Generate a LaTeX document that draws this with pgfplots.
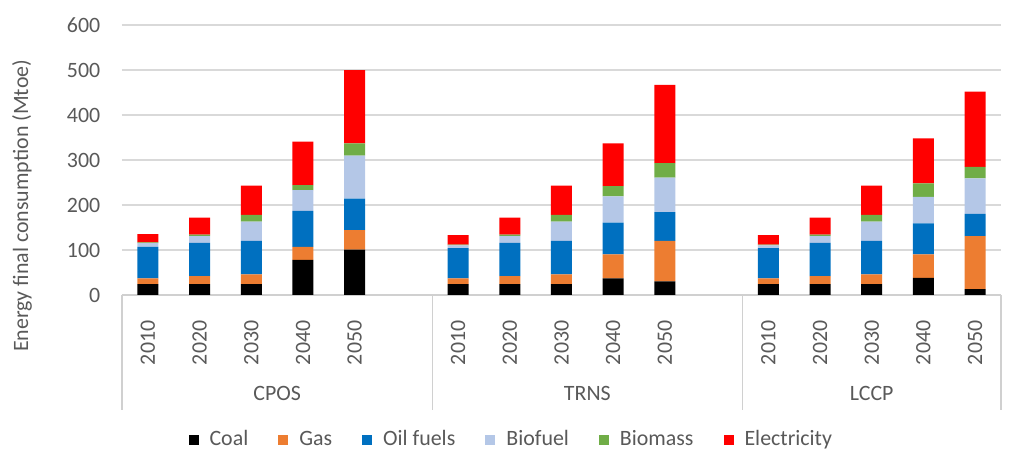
\documentclass[border=0pt,11pt]{standalone}
\usepackage{fontspec}
\setmainfont{Carlito}
\usepackage{pgfplots}
\usepackage{pgfplotstable}
\pgfplotsset{compat=1.18}
\definecolor{coal}{HTML}{000000}
\definecolor{gas}{HTML}{ED7D31}
\definecolor{oil}{HTML}{0070C0}
\definecolor{biofuel}{HTML}{B4C7E7}
\definecolor{biomass}{HTML}{70AD47}
\definecolor{elec}{HTML}{FF0000}
\definecolor{txt}{HTML}{595959}
\definecolor{gridc}{HTML}{D9D9D9}
\definecolor{sepc}{HTML}{D0D0D0}

\pgfplotstableread{
x   Coal Gas Oil Biofuel Biomass Elec
0   24   13  70  8       2       18
1   24   18  74  15      3       38
2   24   22  74  43      15      65
3   78   29  80  46      11      97
4   101  43  70  96      27      163
6   24   13  67  6       2       21
7   24   18  74  15      3       38
8   24   22  74  43      15      65
9   37   53  71  58      23      95
10  30   90  64  77      32      174
12  24   13  67  6       2       21
13  24   18  74  15      3       38
14  24   22  74  43      15      65
15  38   52  69  59      30      100
16  13   118 49  79      26      167
}\datatable

\begin{document}
\begin{tikzpicture}
\begin{axis}[
  at={(0,0)}, anchor=south west,
  scale only axis,
  width=439.5pt, height=135pt,
  xmin=-0.5, xmax=16.5,
  ymin=0, ymax=600,
  ytick={0,100,...,600},
  xtick={0,1,2,3,4,6,7,8,9,10,12,13,14,15,16},
  xticklabels={2010,2020,2030,2040,2050,2010,2020,2030,2040,2050,2010,2020,2030,2040,2050},
  xticklabel style={rotate=90, anchor=east, text=txt},
  xticklabel shift=9pt,
  yticklabel style={text=txt, xshift=-7pt},
  /pgf/number format/assume math mode=true,
  major tick length=0pt,
  axis line style={draw=none},
  ymajorgrids,
  grid style={draw=gridc, line width=0.6pt},
  ybar stacked,
  bar width=10.5pt,
  clip=false,
  ylabel={Energy final consumption (Mtoe)},
  ylabel style={at={(axis description cs:-0.1138,0.33)}, anchor=center, text=txt},
  legend columns=-1,
  legend style={at={(axis description cs:0.444,-0.537)}, anchor=center, draw=none,
    font=\color{txt}, /tikz/every even column/.append style={column sep=13pt},
    /tikz/every odd column/.append style={column sep=3.5pt}},
  legend image code/.code={\fill[#1, draw=none] (0pt,-2.5pt) rectangle (5pt,2.5pt);},
]
\addplot[fill=coal, draw=none] table[x=x, y=Coal] {\datatable};
\addplot[fill=gas, draw=none] table[x=x, y=Gas] {\datatable};
\addplot[fill=oil, draw=none] table[x=x, y=Oil] {\datatable};
\addplot[fill=biofuel, draw=none] table[x=x, y=Biofuel] {\datatable};
\addplot[fill=biomass, draw=none] table[x=x, y=Biomass] {\datatable};
\addplot[fill=elec, draw=none] table[x=x, y=Elec] {\datatable};
\legend{Coal, Gas, Oil fuels, Biofuel, Biomass, Electricity}
\draw[sepc, line width=0.6pt] (axis cs:-0.5,0) -- (axis cs:16.5,0);
\draw[sepc, line width=0.6pt] (axis cs:-0.5,0) -- (axis cs:-0.5,-255.6);
\draw[sepc, line width=0.6pt] (axis cs:5.5,0) -- (axis cs:5.5,-255.6);
\draw[sepc, line width=0.6pt] (axis cs:11.5,0) -- (axis cs:11.5,-255.6);
\draw[sepc, line width=0.6pt] (axis cs:16.5,0) -- (axis cs:16.5,-255.6);
\node[text=txt] at (axis cs:2.5,-217.8) {CPOS};
\node[text=txt] at (axis cs:8.5,-217.8) {TRNS};
\node[text=txt] at (axis cs:14,-217.8) {LCCP};
\end{axis}
\path[use as bounding box] (-61pt,-87.5pt) rectangle ++(506.5pt,235pt);
\end{tikzpicture}
\end{document}
